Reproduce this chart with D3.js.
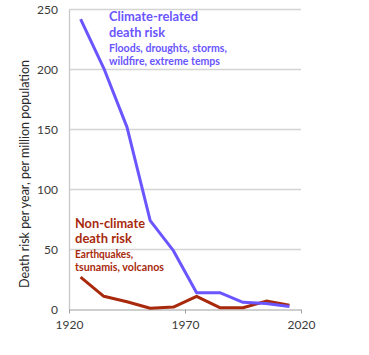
<!DOCTYPE html>
<html><head><meta charset="utf-8">
<script src="https://cdn.jsdelivr.net/npm/d3@7"></script>
<style>
html,body{margin:0;padding:0;background:#fff;}
svg{display:block;font-family:Lato,"Open Sans",sans-serif;}
</style></head>
<body>
<svg id="c" width="369" height="355"></svg>
<script>
const years = [1925, 1935, 1945, 1955, 1965, 1975, 1985, 1995, 2005, 2015];
const climateRisk = [242, 201, 152, 74, 49, 14, 14, 6, 5, 2.5];
const nonClimateRisk = [27, 11, 6.5, 1, 2, 11, 1.5, 1.5, 7, 3.5];
const yTicks = [0, 50, 100, 150, 200, 250];
const xTicks = [1920, 1970, 2020];
const yTitle = "Death risk per year, per million population";
const climateLabel = ["Climate-related", "death risk"];
const climateSub = ["Floods, droughts, storms,", "wildfire, extreme temps"];
const nonLabel = ["Non-climate", "death risk"];
const nonSub = ["Earthquakes,", "tsunamis, volcanos"];

const blue = "#6a55ff", red = "#a8290c", grid = "#d4d4d4", axisC = "#c8c8c8", txt = "#3a3a3a";
const svg = d3.select("#c");
const x = d3.scaleLinear().domain([1920, 2020]).range([69, 301]);
const y = d3.scaleLinear().domain([0, 250]).range([309.5, 9.5]);

// gridlines
svg.append("g").selectAll("line").data(yTicks.filter(d => d > 0)).join("line")
  .attr("x1", x(1920)).attr("x2", x(2020)).attr("y1", d => y(d)).attr("y2", d => y(d))
  .attr("stroke", grid).attr("stroke-width", 1.3);

// left axis
const ya = svg.append("g").attr("transform", `translate(${x(1920)},0)`)
  .call(d3.axisLeft(y).tickValues(yTicks).tickSize(0).tickPadding(11));
ya.select(".domain").attr("stroke", axisC).attr("stroke-width", 1.3);
ya.selectAll("text").attr("fill", txt).attr("font-size", 12).attr("font-family", "Lato, sans-serif");

// bottom axis
const xa = svg.append("g").attr("transform", `translate(0,${y(0)})`)
  .call(d3.axisBottom(x).tickValues(xTicks).tickFormat(d3.format("d")).tickSize(4).tickSizeOuter(0).tickPadding(7));
xa.select(".domain").attr("stroke", "#a0a0a0").attr("stroke-width", 1.2);
xa.selectAll("line").attr("stroke", "#a0a0a0");
xa.selectAll("text").attr("fill", txt).attr("font-size", 12).attr("font-family", "Lato, sans-serif");

// y title
svg.append("text").attr("transform", "translate(29,174) rotate(-90)")
  .attr("text-anchor", "middle").attr("font-size", 12.5).attr("fill", "#2a2a2a")
  .attr("textLength", 228).attr("lengthAdjust", "spacingAndGlyphs")
  .text(yTitle);

// lines
const line = d3.line().x((d, i) => x(years[i])).y(d => y(d));
svg.append("path").datum(nonClimateRisk).attr("d", line).attr("fill", "none")
  .attr("stroke", red).attr("stroke-width", 3).attr("stroke-linejoin", "round");
svg.append("path").datum(climateRisk).attr("d", line).attr("fill", "none")
  .attr("stroke", blue).attr("stroke-width", 3).attr("stroke-linejoin", "round");

// annotations
function label(lines, x0, ys, size, color, widths) {
  lines.forEach((t, i) => {
    svg.append("text").attr("x", x0).attr("y", ys[i]).attr("fill", color)
      .attr("font-weight", "bold").attr("font-size", size)
      .attr("textLength", widths[i]).attr("lengthAdjust", "spacingAndGlyphs")
      .text(t);
  });
}
label(climateLabel, 109, [20.5, 36.5], 13.5, blue, [89, 56]);
label(climateSub, 109, [51.5, 64.5], 10.5, blue, [118, 111]);
label(nonLabel, 75, [227.5, 243], 13.5, red, [70, 57]);
label(nonSub, 75, [257.5, 270.5], 10.5, red, [58, 89]);
</script>
</body></html>
